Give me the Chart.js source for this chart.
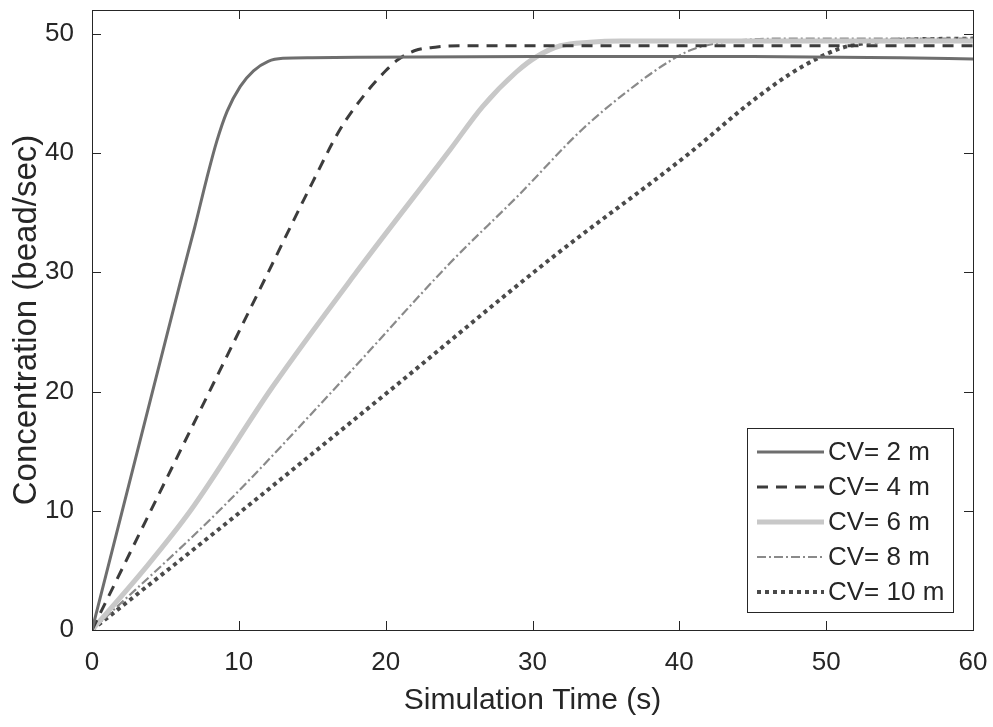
<!DOCTYPE html>
<html>
<head>
<meta charset="utf-8">
<script src="https://cdn.jsdelivr.net/npm/chart.js@4"></script>
<style>
  html, body { margin: 0; padding: 0; background: #fff; }
  #wrap { width: 993px; height: 727px; }
</style>
</head>
<body>
<div id="wrap"><canvas id="myChart" width="993" height="727"></canvas></div>
<script>
// values
var labels = ['CV= 2 m', 'CV= 4 m', 'CV= 6 m', 'CV= 8 m', 'CV= 10 m']

var t2 = [0, 2, 4, 6, 7, 7.8, 8.5, 9.2, 10.1, 11, 12, 13, 15, 30, 45, 55, 60]
var v2 = [0, 9.7, 19.4, 29.1, 33.8, 37.8, 41.0, 43.5, 45.6, 46.9, 47.7, 47.95, 48.0, 48.1, 48.1, 48.0, 47.9]

var t4 = [0, 4, 8, 12, 15, 16.9, 18.5, 20, 20.8, 22, 23.5, 25, 40, 60]
var v4 = [0, 10, 20, 30, 37.5, 42, 44.8, 46.9, 47.8, 48.6, 48.9, 49.0, 49.0, 49.0]

var t6 = [0, 3.7, 6.7, 12.3, 18, 24.4, 26.6, 28.9, 30.3, 31.9, 33.9, 36, 60]
var v6 = [0, 5.3, 10, 20.4, 30, 40.3, 43.9, 46.8, 48.1, 49.0, 49.3, 49.4, 49.4]

var t8 = [0, 8.9, 17.1, 24.4, 29, 33.4, 36.9, 39.2, 40.7, 42.5, 44.5, 47, 60]
var v8 = [0, 10.3, 21, 30.8, 36.4, 42.0, 45.6, 47.6, 48.6, 49.2, 49.5, 49.6, 49.6]

var t10 = [0, 9.4, 20.1, 31.2, 40.7, 44.8, 47.5, 49.5, 51, 52.5, 55, 60]
var v10 = [0, 9.2, 19.9, 31.1, 40, 44.2, 46.6, 48.0, 48.8, 49.2, 49.5, 49.6]

var xTicks = [0, 10, 20, 30, 40, 50, 60]
var yTicks = [0, 10, 20, 30, 40, 50]

function pts(xs, ys) {
  return xs.map((x, i) => ({ x: x, y: ys[i] }))
}

const FONT = "'Liberation Sans', Arial, sans-serif"
const TXT = '#262626'

const styles = [
  { color: '#6e6e6e', width: 3, dash: [] },
  { color: '#3c3c3c', width: 3, dash: [11, 8] },
  { color: '#c8c8c8', width: 5, dash: [] },
  { color: '#8a8a8a', width: 2.2, dash: [9, 3, 2, 3] },
  { color: '#4a4a4a', width: 4, dash: [4, 4] }
]
const series = [pts(t2, v2), pts(t4, v4), pts(t6, v6), pts(t8, v8), pts(t10, v10)]

const data = {
  datasets: series.map((s, i) => ({
    label: labels[i],
    data: s,
    borderColor: styles[i].color,
    borderWidth: styles[i].width,
    borderDash: styles[i].dash,
    pointRadius: 0,
    fill: false,
    cubicInterpolationMode: 'monotone'
  }))
}

// box + inward ticks on all four sides, like the original
const boxPlugin = {
  id: 'box',
  afterDatasetsDraw(chart) {
    const { ctx, chartArea: a, scales } = chart
    ctx.save()
    ctx.strokeStyle = TXT
    ctx.lineWidth = 1
    ctx.setLineDash([])
    ctx.strokeRect(a.left + 0.5, a.top + 0.5, a.right - a.left, a.bottom - a.top)
    const L = 9
    ctx.beginPath()
    xTicks.forEach(v => {
      const x = Math.round(scales.x.getPixelForValue(v)) + 0.5
      ctx.moveTo(x, a.bottom); ctx.lineTo(x, a.bottom - L)
      ctx.moveTo(x, a.top); ctx.lineTo(x, a.top + L)
    })
    yTicks.forEach(v => {
      const y = Math.round(scales.y.getPixelForValue(v)) + 0.5
      ctx.moveTo(a.left, y); ctx.lineTo(a.left + L, y)
      ctx.moveTo(a.right, y); ctx.lineTo(a.right - L, y)
    })
    ctx.stroke()
    ctx.restore()
  }
}

// legend box inside the plot, bottom right
const legendPlugin = {
  id: 'insideLegend',
  afterDraw(chart) {
    const { ctx } = chart
    const bx = 747, by = 428, bw = 206, bh = 184
    ctx.save()
    ctx.fillStyle = '#fff'
    ctx.fillRect(bx, by, bw, bh)
    ctx.strokeStyle = TXT
    ctx.lineWidth = 1
    ctx.strokeRect(bx + 0.5, by + 0.5, bw, bh)
    ctx.font = '26px ' + FONT
    ctx.textBaseline = 'middle'
    chart.data.datasets.forEach((ds, i) => {
      const y = by + 24 + i * 35
      ctx.strokeStyle = ds.borderColor
      ctx.lineWidth = ds.borderWidth
      ctx.setLineDash(ds.borderDash)
      ctx.beginPath()
      ctx.moveTo(bx + 10, y)
      ctx.lineTo(bx + 77, y)
      ctx.stroke()
      ctx.setLineDash([])
      ctx.fillStyle = TXT
      ctx.fillText(ds.label, bx + 81, y + 1)
    })
    ctx.restore()
  }
}

const config = {
  type: 'line',
  data: data,
  options: {
    responsive: false,
    animation: false,
    layout: { padding: { left: 0, right: 20, top: 10, bottom: 0 } },
    plugins: { legend: { display: false }, tooltip: { enabled: false } },
    scales: {
      x: {
        type: 'linear',
        min: 0, max: 60,
        grid: { display: false },
        border: { display: false },
        afterBuildTicks: s => { s.ticks = xTicks.map(v => ({ value: v })) },
        afterFit: s => { s.height = 97; s.paddingLeft = 0; s.paddingRight = 0 },
        ticks: { color: TXT, font: { family: FONT, size: 26 }, padding: 9, maxRotation: 0 },
        title: { display: true, text: 'Simulation Time (s)', color: TXT, font: { family: FONT, size: 30 }, padding: { top: 0, bottom: 8 } }
      },
      y: {
        type: 'linear',
        min: 0, max: 52,
        grid: { display: false },
        border: { display: false },
        afterBuildTicks: s => { s.ticks = yTicks.map(v => ({ value: v })) },
        afterFit: s => { s.width = 92; s.paddingTop = 0; s.paddingBottom = 0 },
        ticks: { color: TXT, font: { family: FONT, size: 26 }, padding: 10 },
        title: { display: true, text: 'Concentration (bead/sec)', color: TXT, font: { family: FONT, size: 33 }, padding: { bottom: 0, top: 7 } }
      }
    }
  },
  plugins: [boxPlugin, legendPlugin]
}

const myChart = new Chart(document.getElementById('myChart'), config)
</script>
</body>
</html>
